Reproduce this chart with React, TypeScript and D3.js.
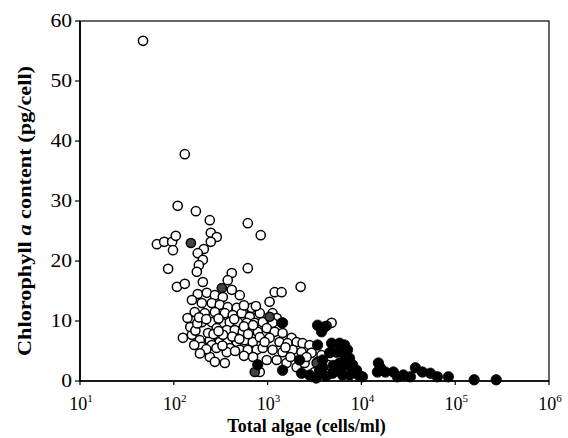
import React from "react";
import * as d3 from "d3";

// Open circles: [total algae (cells/ml), chlorophyll a (pg/cell)]
const openPoints: [number, number][] = [
  [47, 56.7], [131, 37.8], [110, 29.2], [172, 28.3], [242, 26.8], [615, 26.3], [845, 24.3],
  [66, 22.8], [79, 23.2], [96, 23.2], [105, 24.2], [98, 21.8], [248, 24.7], [287, 24.0],
  [248, 23.2], [209, 22.0], [180, 21.3], [204, 20.2], [185, 19.3], [176, 18.2], [87, 18.7],
  [615, 18.8], [415, 18.0], [376, 16.8], [204, 16.5], [108, 15.7], [131, 16.2], [1190, 14.8],
  [1410, 14.8], [2250, 15.7], [1050, 13.2],
  [415, 15.2], [505, 14.3], [180, 14.5], [225, 14.7], [274, 14.3], [333, 14.0], [156, 13.5],
  [199, 13.0], [254, 13.0], [309, 12.7], [376, 12.3], [469, 12.2], [678, 11.8], [167, 11.5],
  [214, 11.3], [274, 11.5], [350, 11.3], [425, 11.0], [530, 11.3], [645, 10.7], [199, 9.8],
  [254, 9.8], [325, 9.7], [395, 9.8], [481, 9.8], [600, 9.7], [730, 9.7], [287, 8.8],
  [367, 8.5], [447, 8.5], [544, 8.2], [678, 8.5], [785, 8.2], [125, 7.2], [156, 7.7],
  [189, 6.8], [242, 6.8], [309, 6.5], [376, 6.8], [469, 6.5], [571, 6.8], [695, 6.5],
  [199, 5.7], [254, 6.0], [395, 5.5], [505, 5.2], [615, 5.2], [766, 5.2], [367, 4.8],
  [242, 4.0], [274, 3.2], [350, 3.0],
  [825, 11.3], [1130, 11.3], [1250, 10.5], [888, 9.8], [1130, 9.7], [1410, 9.7], [980, 8.8],
  [1190, 8.2], [1445, 8.0], [1800, 7.2], [825, 7.3], [1050, 7.2], [1340, 6.5], [1630, 6.3],
  [2040, 6.5], [2360, 6.3], [2800, 6.0], [888, 5.5], [1130, 5.2], [1445, 4.8], [1850, 5.2],
  [2300, 4.8], [2940, 4.7], [3760, 4.3], [980, 3.5], [1250, 3.5], [1590, 3.0], [2040, 2.3],
  [2480, 3.0], [3410, 3.2], [4360, 2.7], [825, 1.5], [5440, 1.8], [3170, 1.5], [4810, 9.7],
  [678, 12.2], [8050, 1.5], [9560, 0.8],
  [140, 10.5], [150, 9.0], [170, 8.4], [178, 9.6], [186, 10.6], [222, 10.3], [232, 8.0],
  [265, 7.8], [300, 10.4], [335, 7.7], [420, 7.4], [500, 7.0], [560, 9.1], [620, 7.8],
  [700, 9.3], [165, 6.0], [222, 5.3], [285, 5.5], [330, 5.9], [450, 5.0], [560, 4.2],
  [700, 4.0], [190, 4.6], [300, 8.3], [440, 10.3], [560, 12.6], [750, 12.5], [930, 6.5],
  [1550, 5.6], [2600, 4.0], [1750, 4.0],
];

// Dark grey filled circles
const greyPoints: [number, number][] = [
  [152, 23.0], [325, 15.5], [1050, 10.7], [4250, 9.2], [3330, 3.0], [2940, 0.7], [730, 1.5],
];

// Solid black circles
const filledPoints: [number, number][] = [
  [1445, 9.7], [3410, 9.3], [3760, 8.2], [4050, 9.0], [3410, 6.0], [4810, 6.3], [5850, 6.3],
  [6620, 6.0], [5440, 4.8], [6300, 4.7], [4580, 4.7], [7120, 5.2], [6950, 3.5], [3860, 3.5],
  [5850, 3.0], [7480, 3.8], [8050, 2.7], [785, 2.7], [1445, 1.8], [2300, 1.3], [2800, 1.0],
  [3580, 1.8], [3860, 2.3], [4930, 1.3], [5570, 1.8], [6300, 1.0], [7480, 1.0], [7850, 2.2],
  [8880, 1.8], [10250, 0.7], [6150, 2.3], [15180, 3.0], [15940, 2.2], [14810, 1.5],
  [18020, 1.5], [21930, 1.5], [24200, 0.7], [28030, 1.0], [33280, 0.7], [37630, 2.2],
  [44680, 1.5], [54360, 1.3], [64540, 0.7], [84530, 0.7], [159400, 0.2], [273500, 0.2],
  [2190, 3.5], [4200, 0.8], [5000, 2.6], [6800, 2.8], [9200, 1.1], [3300, 0.5],
];

const yTicks = [0, 10, 20, 30, 40, 50, 60];
const xExponents = [1, 2, 3, 4, 5, 6];
const xTitle = "Total algae (cells/ml)";

const W = 568;
const H = 438;
const M = { left: 80, right: 549, top: 21, bottom: 381 };
const FONT = "'Liberation Serif', 'DejaVu Serif', serif";

export default function App() {
  const x = d3.scaleLog().domain([10, 1e6]).range([M.left, M.right]);
  const y = d3.scaleLinear().domain([0, 60]).range([M.bottom, M.top]);
  const r = 4.6;

  return (
    <svg
      width={W}
      height={H}
      style={{ position: "absolute", left: 0, top: 0, background: "#fff" }}
      fontFamily={FONT}
    >
      <rect x={0} y={0} width={W} height={H} fill="#fff" />
      <g>
        {openPoints.map((p, i) => (
          <circle key={"o" + i} cx={x(p[0])} cy={y(p[1])} r={r} fill="#fff" stroke="#000" strokeWidth={1.5} />
        ))}
        {greyPoints.map((p, i) => (
          <circle key={"g" + i} cx={x(p[0])} cy={y(p[1])} r={r} fill="#444" stroke="#000" strokeWidth={1.5} />
        ))}
        {filledPoints.map((p, i) => (
          <circle key={"f" + i} cx={x(p[0])} cy={y(p[1])} r={r + 0.6} fill="#000" stroke="#000" strokeWidth={0.8} />
        ))}
      </g>
      <rect
        x={M.left}
        y={M.top}
        width={M.right - M.left}
        height={M.bottom - M.top}
        fill="none"
        stroke="#000"
        strokeWidth={1.2}
      />
      <line x1={M.left} x2={M.left} y1={M.top} y2={M.bottom} stroke="#000" strokeWidth={1.8} />
      <line x1={M.left} x2={M.right} y1={M.bottom} y2={M.bottom} stroke="#000" strokeWidth={1.5} />
      {yTicks.map((t) => (
        <g key={"yt" + t}>
          <line x1={M.left - 5} x2={M.left} y1={y(t)} y2={y(t)} stroke="#000" strokeWidth={1.2} />
          <text
            transform={`translate(${M.left - 8},${y(t) + 6}) scale(1.2,1)`}
            textAnchor="end"
            fontSize={18}
            fill="#000"
          >
            {t}
          </text>
        </g>
      ))}
      {xExponents.map((e) => {
        const px = x(Math.pow(10, e));
        return (
          <g key={"xt" + e}>
            <line x1={px} x2={px} y1={M.bottom} y2={M.bottom + 4} stroke="#000" strokeWidth={1.2} />
            <text x={px + 1} y={M.bottom + 29} textAnchor="middle" fontSize={18} fill="#000">
              10
              <tspan fontSize={11} dy={-8}>
                {e}
              </tspan>
            </text>
          </g>
        );
      })}
      <text
        x={(M.left + M.right) / 2 - 8}
        y={432}
        textAnchor="middle"
        fontSize={18}
        fontWeight="bold"
        fill="#000"
      >
        {xTitle}
      </text>
      <text
        transform={`translate(31,${(M.top + M.bottom) / 2 + 10}) rotate(-90)`}
        textAnchor="middle"
        fontSize={19}
        fontWeight="bold"
        fill="#000"
        textLength={290}
        lengthAdjust="spacingAndGlyphs"
      >
        Chlorophyll <tspan fontStyle="italic">a</tspan> content (pg/cell)
      </text>
    </svg>
  );
}
